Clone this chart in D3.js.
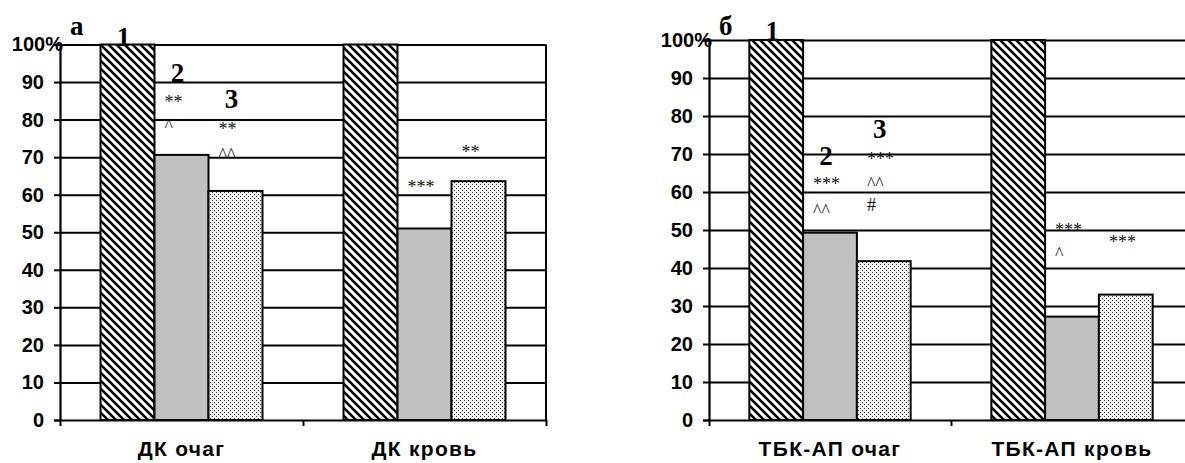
<!DOCTYPE html>
<html lang="ru">
<head>
  <meta charset="UTF-8">
  <title>ДК / ТБК-АП</title>
  <script src="https://cdn.jsdelivr.net/npm/d3@7"></script>
  <style>
    html, body { margin: 0; padding: 0; background: #fff; }
    svg { display: block; }
    .tick-label { font-family: "Liberation Sans", Arial, sans-serif; font-weight: bold; font-size: 20px; fill: #000; }
    .cat-label { font-family: "Liberation Sans", Arial, sans-serif; font-weight: bold; font-size: 21px; letter-spacing: 1.3px; fill: #000; }
    .num-mark { font-family: "Liberation Serif", "Times New Roman", serif; font-weight: bold; font-size: 27px; fill: #000; }
    .sig-mark { font-family: "Liberation Serif", "Times New Roman", serif; font-size: 18px; fill: #111; }
  </style>
</head>
<body>
  <svg id="chart" width="1185" height="463"></svg>

  <script>
    // --- data ---
    const series = ["1", "2", "3"];
    const yTicks = [0, 10, 20, 30, 40, 50, 60, 70, 80, 90, 100];

    const panelA = "а";
    const categoriesA = ["ДК очаг", "ДК кровь"];
    const valuesA = [
      [100, 70.6, 61],
      [100, 51, 63.6]
    ];
    // annotations: category index, series index, level (% units), text
    const marksA = [
      { cat: 0, s: 0, level: 99.7, text: "1" },
      { cat: 0, s: 1, level: 90, text: "2" },
      { cat: 0, s: 1, level: 83.1, text: "**" },
      { cat: 0, s: 1, level: 76.8, text: "^" },
      { cat: 0, s: 2, level: 83.1, text: "3" },
      { cat: 0, s: 2, level: 75.8, text: "**" },
      { cat: 0, s: 2, level: 69.1, text: "^^" },
      { cat: 1, s: 1, level: 60.5, text: "***" },
      { cat: 1, s: 2, level: 69.8, text: "**" }
    ];

    const panelB = "б";
    const categoriesB = ["ТБК-АП очаг", "ТБК-АП кровь"];
    const valuesB = [
      [100, 49.3, 41.8],
      [100, 27.2, 33]
    ];
    const marksB = [
      { cat: 0, s: 0, level: 100, text: "1" },
      { cat: 0, s: 1, level: 67.1, text: "2" },
      { cat: 0, s: 1, level: 60.4, text: "***" },
      { cat: 0, s: 1, level: 53.4, text: "^^" },
      { cat: 0, s: 2, level: 74.1, text: "3" },
      { cat: 0, s: 2, level: 67, text: "***" },
      { cat: 0, s: 2, level: 60.6, text: "^^" },
      { cat: 0, s: 2, level: 55, text: "#" },
      { cat: 1, s: 1, level: 48.3, text: "***" },
      { cat: 1, s: 1, level: 42, text: "^" },
      { cat: 1, s: 2, level: 45.3, text: "***" }
    ];

    const svg = d3.select("#chart");

    // fill patterns like the old Excel ones
    const defs = svg.append("defs");
    const hatch = defs.append("pattern")
      .attr("id", "hatch")
      .attr("patternUnits", "userSpaceOnUse")
      .attr("width", 8).attr("height", 8);
    hatch.append("rect").attr("width", 8).attr("height", 8).attr("fill", "#fff");
    hatch.append("path")
      .attr("d", "M-2,-2L10,10M-2,6L2,10M6,-2L10,2")
      .attr("stroke", "#000")
      .attr("stroke-width", 2.6);

    const dots = defs.append("pattern")
      .attr("id", "dots")
      .attr("patternUnits", "userSpaceOnUse")
      .attr("width", 4).attr("height", 4);
    dots.append("rect").attr("width", 4).attr("height", 4).attr("fill", "#f2f2f2");
    dots.append("rect").attr("x", 0).attr("y", 0).attr("width", 1).attr("height", 1).attr("fill", "#333");
    dots.append("rect").attr("x", 2).attr("y", 2).attr("width", 1).attr("height", 1).attr("fill", "#333");

    const fills = ["url(#hatch)", "#c0c0c0", "url(#dots)"];

    function drawPanel(cfg) {
      const { left, right, top, bottom, categories, values, marks, letter } = cfg;
      const g = svg.append("g");

      const y = d3.scaleLinear().domain([0, 100]).range([bottom, top]);
      const x0 = d3.scaleBand().domain(d3.range(categories.length)).range([left, right]);
      const xs = d3.scaleBand().domain(d3.range(series.length))
        .range([0, x0.bandwidth()])
        .paddingInner(0).paddingOuter(0.75);

      // horizontal grid
      const grid = g.append("g")
        .attr("transform", `translate(${left},0)`)
        .call(d3.axisLeft(y).tickValues(yTicks.filter(t => t > 0))
          .tickSize(-(right - left)).tickFormat(""));
      grid.select(".domain").remove();
      grid.selectAll("line").attr("stroke", "#000").attr("stroke-width", 2);

      // right frame line
      g.append("line")
        .attr("x1", right).attr("x2", right)
        .attr("y1", top).attr("y2", bottom)
        .attr("stroke", "#000").attr("stroke-width", 2);

      // bars
      categories.forEach((c, ci) => {
        g.append("g")
          .selectAll("rect")
          .data(values[ci])
          .join("rect")
          .attr("x", (d, i) => x0(ci) + xs(i))
          .attr("y", d => y(d))
          .attr("width", xs.bandwidth())
          .attr("height", d => y(0) - y(d))
          .attr("fill", (d, i) => fills[i])
          .attr("stroke", "#000")
          .attr("stroke-width", 2);
      });

      // y axis
      const yAxis = g.append("g")
        .attr("transform", `translate(${left},0)`)
        .call(d3.axisLeft(y).tickValues(yTicks).tickSize(6).tickPadding(10)
          .tickFormat(d => d === 100 ? "100%" : d));
      yAxis.select(".domain").attr("stroke", "#000").attr("stroke-width", 2.2);
      yAxis.selectAll("line").attr("stroke", "#000").attr("stroke-width", 2);
      yAxis.selectAll("text")
        .attr("class", "tick-label")
        .filter(d => d === 100).attr("x", 3);

      // x axis with ticks on category borders
      const xt = d3.scaleLinear().domain([0, categories.length]).range([left, right]);
      const xAxis = g.append("g")
        .attr("transform", `translate(0,${bottom})`)
        .call(d3.axisBottom(xt).tickValues(d3.range(categories.length + 1))
          .tickSize(6).tickSizeOuter(0).tickFormat(""));
      xAxis.select(".domain").attr("stroke", "#000").attr("stroke-width", 2.2);
      xAxis.selectAll("line").attr("stroke", "#000").attr("stroke-width", 2);

      // category labels
      g.append("g")
        .selectAll("text")
        .data(categories)
        .join("text")
        .attr("class", "cat-label")
        .attr("x", (d, i) => x0(i) + x0.bandwidth() / 2)
        .attr("y", bottom + 36)
        .attr("text-anchor", "middle")
        .text(d => d);

      // annotations above the bars
      g.append("g")
        .selectAll("text")
        .data(marks)
        .join("text")
        .attr("class", d => /^\d$/.test(d.text) ? "num-mark" : "sig-mark")
        .attr("x", d => /^\d$/.test(d.text)
          ? x0(d.cat) + xs(d.s) + xs.bandwidth() / 2 - 4
          : x0(d.cat) + xs(d.s) + 10)
        .attr("y", d => y(d.level))
        .attr("text-anchor", d => /^\d$/.test(d.text) ? "middle" : "start")
        .text(d => d.text);

      // panel letter
      g.append("text")
        .attr("class", "num-mark")
        .attr("x", left + 10)
        .attr("y", 35)
        .text(letter);
    }

    drawPanel({ left: 60, right: 546, top: 44.5, bottom: 420,
      categories: categoriesA, values: valuesA, marks: marksA, letter: panelA });
    drawPanel({ left: 709, right: 1193, top: 40, bottom: 420,
      categories: categoriesB, values: valuesB, marks: marksB, letter: panelB });
  </script>
</body>
</html>
